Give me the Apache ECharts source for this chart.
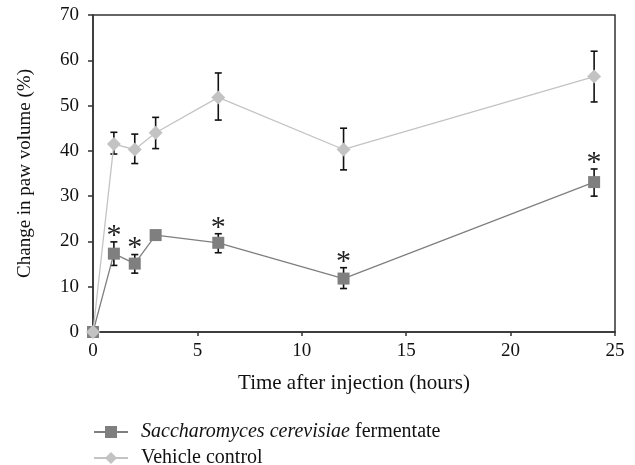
<!DOCTYPE html>
<html>
<head>
<meta charset="utf-8">
<script src="https://cdn.jsdelivr.net/npm/echarts@6/dist/echarts.min.js"></script>
<style>
  html, body { margin: 0; padding: 0; background: #fff; }
  #chart { width: 635px; height: 465px; }
</style>
</head>
<body>
<div id="chart"></div>
<script>
const hours = [0, 1, 2, 3, 6, 12, 24];

const yeastMean = [0, 17.3, 15.1, 21.4, 19.7, 11.8, 33.1];
const yeastLow = [null, 14.7, 13.0, null, 17.5, 9.6, 30.0];
const yeastHigh = [null, 19.9, 17.1, null, 21.7, 14.2, 36.0];
const yeastStar = [false, true, true, false, true, true, true];

const vehicleMean = [0, 41.5, 40.3, 44.0, 51.8, 40.3, 56.4];
const vehicleLow = [null, 39.3, 37.2, 40.5, 46.8, 35.8, 50.8];
const vehicleHigh = [null, 44.1, 43.7, 47.4, 57.2, 45.0, 62.0];

const FONT = "Liberation Serif";

const pairs = (ys) => hours.map((h, i) => [h, ys[i]]);

const errorRows = (low, high, star) =>
  hours.map((h, i) => [h, low[i], high[i], star ? (star[i] ? 1 : 0) : 0])
    .filter(r => r[1] != null);

// vertical error bar with caps, plus the significance asterisk when flagged
const renderError = (params, api) => {
  const x = api.value(0);
  const lo = api.coord([x, api.value(1)]);
  const hi = api.coord([x, api.value(2)]);
  const cap = 3.5;
  const style = { stroke: "#111", lineWidth: 1.6 };
  const kids = [
    { type: "line", shape: { x1: lo[0], y1: lo[1], x2: hi[0], y2: hi[1] }, style },
    { type: "line", shape: { x1: lo[0] - cap, y1: lo[1], x2: lo[0] + cap, y2: lo[1] }, style },
    { type: "line", shape: { x1: hi[0] - cap, y1: hi[1], x2: hi[0] + cap, y2: hi[1] }, style }
  ];
  if (api.value(3)) {
    kids.push({
      type: "text",
      style: {
        text: "*", x: hi[0], y: hi[1] - 6, align: "center", verticalAlign: "middle",
        font: "30px " + FONT, fill: "#222"
      }
    });
  }
  return { type: "group", children: kids };
};

const legendText = {
  fontSize: 20, color: "#111", fontFamily: FONT, padding: [0, 0, 0, 8],
  rich: { i: { fontStyle: "italic", fontSize: 20, fontFamily: FONT, color: "#111" } }
};

const chart = echarts.init(document.getElementById("chart"));
chart.setOption({
  animation: false,
  textStyle: { fontFamily: FONT },
  grid: {
    left: 93, right: 20, top: 15, bottom: 133,
    show: true, borderColor: "#333", borderWidth: 1.5
  },
  xAxis: {
    type: "value", min: 0, max: 25, interval: 5,
    name: "Time after injection (hours)",
    nameLocation: "middle", nameGap: 41,
    nameTextStyle: { fontSize: 21, color: "#111", fontFamily: FONT },
    axisLine: { onZero: false, lineStyle: { color: "#333", width: 1.5 } },
    axisTick: { inside: false, length: 4, lineStyle: { color: "#333", width: 1.5 } },
    axisLabel: { fontSize: 19, color: "#111", margin: 10 },
    splitLine: { show: false }
  },
  yAxis: {
    type: "value", min: 0, max: 70, interval: 10,
    name: "Change in paw volume (%)",
    nameLocation: "middle", nameGap: 58,
    nameTextStyle: { fontSize: 19, color: "#111", fontFamily: FONT },
    axisLine: { show: true, lineStyle: { color: "#333", width: 1.5 } },
    axisTick: { show: true, length: 5, lineStyle: { color: "#333", width: 1.5 } },
    axisLabel: { fontSize: 19, color: "#111", margin: 14 },
    splitLine: { show: false }
  },
  legend: [
    {
      left: 88, top: 417, itemWidth: 34, itemHeight: 15,
      data: ["yeast"],
      formatter: () => "{i|Saccharomyces cerevisiae} fermentate",
      textStyle: legendText
    },
    {
      left: 88, top: 443, itemWidth: 34, itemHeight: 15,
      data: ["vehicle"],
      formatter: () => "Vehicle control",
      textStyle: legendText
    }
  ],
  series: [
    {
      name: "yeastErr", type: "custom", data: errorRows(yeastLow, yeastHigh, yeastStar),
      renderItem: renderError, z: 1
    },
    {
      name: "vehicleErr", type: "custom", data: errorRows(vehicleLow, vehicleHigh, null),
      renderItem: renderError, z: 1
    },
    {
      name: "yeast", type: "line", data: pairs(yeastMean),
      symbol: "rect", symbolSize: 12,
      itemStyle: { color: "#7f7f7f" },
      lineStyle: { color: "#7f7f7f", width: 1.3 },
      z: 2
    },
    {
      name: "vehicle", type: "line", data: pairs(vehicleMean),
      symbol: "diamond", symbolSize: 14,
      itemStyle: { color: "#c3c3c3" },
      lineStyle: { color: "#c3c3c3", width: 1.3 },
      z: 3
    }
  ]
});
</script>
</body>
</html>
